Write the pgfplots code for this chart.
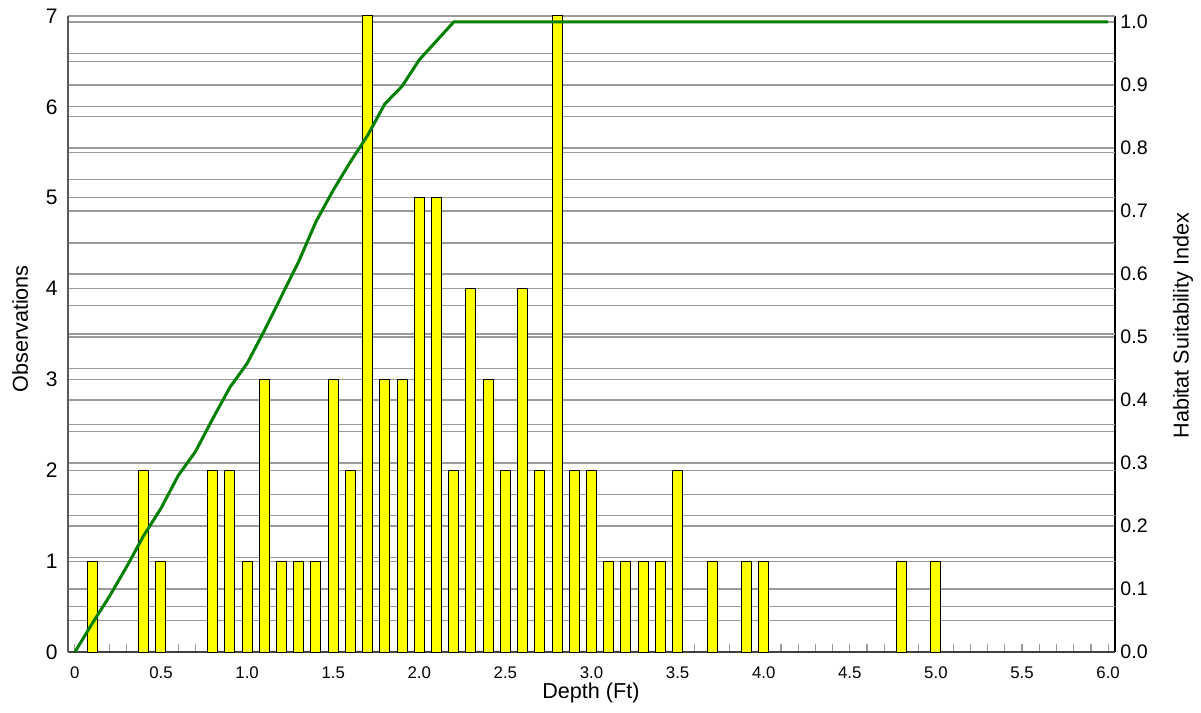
\documentclass[border=0pt]{standalone}
\usepackage{fontspec}
\setmainfont{Liberation Sans}
\usepackage{pgfplots}
\pgfplotsset{compat=1.18}

\definecolor{hsigreen}{RGB}{0,128,0}
\definecolor{gridgray}{RGB}{155,155,155}
\definecolor{baryellow}{RGB}{255,255,0}

\pgfplotsset{
  base/.style={
    scale only axis, width=523.5pt, height=318pt,
    xmin=-0.04, xmax=6.04,
    /pgf/number format/assume math mode=true,
    grid style={gridgray, line width=0.6pt},
  }
}

\begin{document}
\begin{tikzpicture}
\path[use as bounding box] (-34pt,-30.5pt) rectangle (566.5pt,326pt);

% right axis: suitability index, its ticks and grid
\begin{axis}[base,
  axis x line=none, axis y line*=right,
  y axis line style={-, black, line width=0.6pt},
  ymin=0, ymax=1.0095,
  ytick={0,0.1,0.2,0.3,0.4,0.5,0.6,0.7,0.8,0.9,1.0},
  minor ytick={0.05,0.15,0.25,0.35,0.45,0.55,0.65,0.75,0.85,0.95},
  ymajorgrids, yminorgrids,
  tick align=inside, major tick length=5pt, minor tick length=0pt,
  ytick style={gridgray, line width=0.6pt},
  yticklabel style={font=\fontsize{9.8}{11}\selectfont, anchor=west, inner sep=0pt, xshift=2.5pt,
    /pgf/number format/.cd, fixed, fixed zerofill, precision=1},
  ylabel={Habitat Suitability Index},
  ylabel style={font=\fontsize{10.8}{12}\selectfont, at={(axis description cs:1.065,0.513)}, anchor=center, rotate=0},
]
\end{axis}

% left axis: observations (bars)
\begin{axis}[base,
  axis x line*=bottom, axis y line*=left,
  x axis line style={-, black!75, line width=0.7pt},
  y axis line style={-, black!65, line width=1pt},
  ymin=0, ymax=7,
  ytick={0,1,2,3,4,5,6,7},
  minor ytick={0.5,1.5,2.5,3.5,4.5,5.5,6.5},
  ymajorgrids, yminorgrids,
  xtick={0,0.5,1,1.5,2,2.5,3,3.5,4,4.5,5,5.5,6},
  xticklabels={0,0.5,1.0,1.5,2.0,2.5,3.0,3.5,4.0,4.5,5.0,5.5,6.0},
  minor x tick num=4,
  tick align=inside, major tick length=4pt, minor tick length=4pt,
  xtick style={gridgray, line width=0.6pt},
  ytick style={gridgray, line width=0.6pt},
  xticklabel style={font=\fontsize{8.4}{10}\selectfont, anchor=center, yshift=-10.5pt},
  yticklabel style={font=\fontsize{10.5}{12}\selectfont, anchor=east, inner sep=0pt, xshift=-5pt},
  xlabel={Depth (Ft)},
  xlabel style={font=\fontsize{10.8}{12}\selectfont, at={(axis description cs:0.4995,-0.0645)}, anchor=center},
  ylabel={Observations},
  ylabel style={font=\fontsize{10.8}{12}\selectfont, at={(axis description cs:-0.0458,0.508)}, anchor=center},
]
\addplot[ybar, bar width=0.058, fill=baryellow, draw=black, line width=0.5pt] coordinates {
  (0.1,1) (0.4,2) (0.5,1) (0.8,2) (0.9,2) (1.0,1) (1.1,3) (1.2,1) (1.3,1) (1.4,1)
  (1.5,3) (1.6,2) (1.7,7) (1.8,3) (1.9,3) (2.0,5) (2.1,5) (2.2,2) (2.3,4) (2.4,3)
  (2.5,2) (2.6,4) (2.7,2) (2.8,7) (2.9,2) (3.0,2) (3.1,1) (3.2,1) (3.3,1) (3.4,1)
  (3.5,2) (3.7,1) (3.9,1) (4.0,1) (4.8,1) (5.0,1)
};
\end{axis}

% suitability curve on top of the bars
\begin{axis}[base, hide axis, ymin=0, ymax=1.0095]
\addplot[hsigreen, line width=1.5pt] coordinates {
  (0,0) (0.1,0.045) (0.2,0.088) (0.3,0.135) (0.4,0.185) (0.5,0.228) (0.6,0.28)
  (0.7,0.318) (0.8,0.37) (0.9,0.42) (1.0,0.458) (1.1,0.51) (1.2,0.565) (1.3,0.62)
  (1.4,0.683) (1.5,0.733) (1.6,0.778) (1.7,0.82) (1.8,0.87) (1.9,0.898) (2.0,0.94)
  (2.1,0.97) (2.2,1.0) (6.0,1.0)
};
\end{axis}
\end{tikzpicture}
\end{document}
